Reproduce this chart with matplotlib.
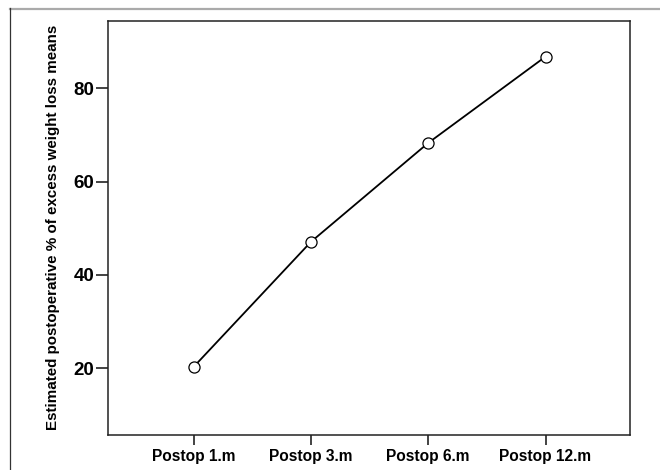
import matplotlib
matplotlib.use("Agg")
import matplotlib.pyplot as plt
from matplotlib.lines import Line2D

categories = ["Postop 1.m", "Postop 3.m", "Postop 6.m", "Postop 12.m"]
values = [20.3, 47.1, 68.3, 86.8]
yticks = [20, 40, 60, 80]

plt.rcParams['font.family'] = ['Liberation Sans', 'DejaVu Sans']
plt.rcParams['font.weight'] = 'bold'

fig = plt.figure(figsize=(6.6, 4.7), dpi=100)
W, H = 660, 470
ax = fig.add_axes([108 / W, 1 - 435 / H, (630 - 108) / W, (435 - 20.7) / H])

x = list(range(len(categories)))
ax.plot(x, values, color='black', linewidth=1.3, marker='o', markersize=8,
        markerfacecolor='white', markeredgecolor='black', markeredgewidth=0.9, zorder=3)

ax.set_xlim(-0.73, 3.72)
ax.set_ylim(5.7, 94.5)
ax.set_xticks(x)
ax.set_xticklabels(categories, fontsize=11.2, fontweight='bold')
ax.set_yticks(yticks)
ax.set_yticklabels([str(v) for v in yticks], fontsize=13.5, fontweight='bold')
ax.tick_params(axis='both', direction='out', width=1.2, color='#222222')
ax.tick_params(axis='y', length=9, pad=1)
ax.tick_params(axis='x', length=7.5, pad=2.5)
ax.set_ylabel("Estimated postoperative % of excess weight loss means", fontsize=10.9,
              fontweight='bold')
ax.yaxis.set_label_coords(-(108 - 60) / (630 - 108), 0.5)
for s in ax.spines.values():
    s.set_linewidth(1.1)
    s.set_color('#222222')

# outer frame lines from the source image
fig.add_artist(Line2D([10 / W, 1], [1 - 8.5 / H, 1 - 8.5 / H], color='#aaaaaa', linewidth=1.6,
                      transform=fig.transFigure))
fig.add_artist(Line2D([10.5 / W, 10.5 / W], [0, 1 - 8 / H], color='#333333', linewidth=0.9,
                      transform=fig.transFigure))

fig.savefig("out.png", dpi=100)
